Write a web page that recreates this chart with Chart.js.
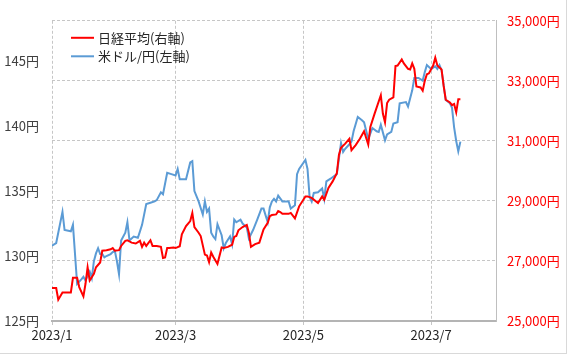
<!DOCTYPE html>
<html lang="ja">
<head>
<meta charset="utf-8">
<title>日経平均と米ドル/円</title>
<script src="https://cdn.jsdelivr.net/npm/chart.js@4.4.0/dist/chart.umd.min.js"></script>
<style>
  body { margin: 0; background: #fff; }
  #wrap { position: relative; width: 568px; height: 355px; overflow: hidden; }
  #frame { position: absolute; left: -1px; top: -1px; width: 566px; height: 353px; border: 1px solid #d9d9d9; pointer-events: none; }
</style>
</head>
<body>
<div id="wrap">
  <canvas id="chart" width="568" height="355"></canvas>
  <div id="frame"></div>
</div>
<script>
// x axis: 2023/1/1 .. 2023/8/1, labels every two months
const tickDates = ['1/1', '3/1', '5/1', '7/1'];
const tickLabels = ['2023/1', '2023/3', '2023/5', '2023/7'];
const axisStart = '1/1';
const axisEnd = '8/1';

// left axis (米ドル/円) and right axis (日経平均) ticks
const leftTicks = [125, 130, 135, 140, 145];
const leftMax = 148.1;
const rightTicks = [25000, 27000, 29000, 31000, 33000, 35000];

// 日経平均 (right axis, yen)
const nikkeiDates = [
  '1/1', '1/3', '1/4', '1/6', '1/10', '1/11', '1/13', '1/14', '1/16', '1/17',
  '1/18', '1/19', '1/21', '1/22', '1/24', '1/25', '1/27', '1/29', '1/30', '1/31',
  '2/2', '2/3', '2/5', '2/6', '2/8', '2/10', '2/12', '2/13', '2/14', '2/15',
  '2/17', '2/18', '2/20', '2/22', '2/23', '2/24', '2/25', '2/26', '2/28', '3/1',
  '3/3', '3/4', '3/6', '3/8', '3/9', '3/10', '3/12', '3/13', '3/15', '3/16',
  '3/17', '3/18', '3/19', '3/21', '3/23', '3/24', '3/26', '3/28', '3/29', '3/30',
  '3/31', '4/2', '4/4', '4/5', '4/6', '4/8', '4/10', '4/12', '4/14', '4/15',
  '4/16', '4/18', '4/19', '4/20', '4/21', '4/24', '4/25', '4/27', '4/29', '5/2',
  '5/3', '5/5', '5/8', '5/10', '5/11', '5/13', '5/15', '5/17', '5/18', '5/19',
  '5/21', '5/23', '5/24', '5/26', '5/28', '5/30', '6/1', '6/2', '6/4', '6/7',
  '6/8', '6/9', '6/10', '6/11', '6/13', '6/14', '6/15', '6/17', '6/18', '6/20',
  '6/21', '6/22', '6/23', '6/24', '6/26', '6/27', '6/28', '6/29', '6/30', '7/2',
  '7/3', '7/4', '7/6', '7/7', '7/8', '7/10', '7/11', '7/12', '7/13', '7/14',
  '7/15'
];
const nikkeiValues = [
  26100, 26100, 25710, 25950, 25950, 26440, 26440, 26130, 25820, 26240,
  26790, 26350, 26570, 26790, 26950, 27340, 27360, 27390, 27430, 27340,
  27360, 27500, 27670, 27690, 27610, 27580, 27670, 27470, 27610, 27500,
  27690, 27500, 27500, 27470, 27100, 27120, 27430, 27430, 27450, 27430,
  27490, 27890, 28160, 28330, 28600, 28130, 27940, 27830, 27210, 27180,
  26960, 27280, 27140, 26900, 27450, 27430, 27470, 27540, 27800, 27830,
  28020, 28130, 28200, 27940, 27470, 27560, 27610, 28050, 28270, 28490,
  28530, 28550, 28660, 28630, 28570, 28570, 28600, 28420, 28820, 29150,
  29150, 29100, 28930, 29150, 29040, 29430, 29650, 29920, 30530, 30770,
  30910, 31070, 30690, 30860, 31070, 31320, 30880, 31460, 31900, 32520,
  31900, 31620, 32260, 32370, 32450, 33490, 33510, 33710, 33580, 33400,
  33380, 33580, 33400, 32810, 32780, 32670, 33000, 33220, 33250, 33510,
  33770, 33510, 33380, 32830, 32370, 32280, 32190, 32230, 31950, 32390,
  32390
];

// 米ドル/円 (left axis, yen)
const usdjpyDates = [
  '1/1', '1/3', '1/6', '1/7', '1/10', '1/11', '1/13', '1/15', '1/16', '1/17',
  '1/18', '1/19', '1/20', '1/21', '1/22', '1/23', '1/24', '1/25', '1/26', '1/27',
  '1/29', '1/30', '1/31', '2/1', '2/2', '2/3', '2/5', '2/6', '2/7', '2/9',
  '2/11', '2/12', '2/13', '2/15', '2/17', '2/19', '2/20', '2/22', '2/23', '2/25',
  '2/27', '3/1', '3/2', '3/3', '3/6', '3/8', '3/9', '3/10', '3/12', '3/14',
  '3/15', '3/16', '3/17', '3/18', '3/19', '3/20', '3/21', '3/23', '3/24', '3/25',
  '3/27', '3/28', '3/29', '3/30', '4/1', '4/2', '4/4', '4/5', '4/7', '4/9',
  '4/11', '4/12', '4/14', '4/15', '4/16', '4/17', '4/18', '4/19', '4/21', '4/24',
  '4/25', '4/27', '4/28', '4/29', '5/2', '5/3', '5/4', '5/5', '5/6', '5/8',
  '5/10', '5/11', '5/12', '5/14', '5/17', '5/19', '5/20', '5/21', '5/23', '5/24',
  '5/25', '5/27', '5/29', '5/30', '6/1', '6/3', '6/5', '6/6', '6/7', '6/9',
  '6/10', '6/12', '6/13', '6/15', '6/16', '6/19', '6/20', '6/22', '6/23', '6/25',
  '6/27', '6/28', '6/29', '7/1', '7/3', '7/4', '7/5', '7/6', '7/8', '7/10',
  '7/11', '7/12', '7/13', '7/14', '7/15'
];
const usdjpyValues = [
  130.8, 131.0, 133.4, 132.0, 131.9, 132.4, 127.85, 128.2, 128.4, 128.1,
  128.5, 128.8, 128.3, 129.6, 130.2, 130.6, 130.15, 130.15, 129.9, 130.0,
  130.15, 130.3, 130.4, 129.6, 128.6, 131.2, 131.8, 132.6, 131.2, 131.5,
  131.4, 131.9, 132.4, 134.0, 134.1, 134.2, 134.3, 134.9, 134.75, 136.4,
  136.3, 136.2, 136.7, 135.9, 135.9, 137.2, 137.3, 135.0, 134.2, 133.2,
  134.2, 133.4, 133.65, 131.8, 131.5, 131.3, 132.45, 131.6, 130.6, 131.0,
  131.5, 130.9, 132.8, 132.6, 132.8, 132.5, 132.2, 131.35, 132.0, 132.8,
  133.65, 133.65, 132.6, 133.75, 134.2, 134.4, 134.2, 134.65, 134.2, 134.2,
  133.65, 133.9, 136.3, 136.7, 137.4, 136.7, 134.55, 134.2, 134.85, 134.9,
  135.2, 134.4, 135.75, 135.95, 136.3, 138.7, 138.0, 138.25, 138.6, 138.8,
  139.6, 140.7, 140.45, 140.3, 139.0, 139.85, 139.6, 139.55, 140.1, 138.9,
  139.35, 139.55, 140.2, 140.3, 141.75, 141.85, 141.5, 142.75, 143.7, 143.7,
  143.5, 144.15, 144.7, 144.4, 144.6, 144.4, 144.7, 144.3, 142.0, 141.75,
  141.4, 139.9, 138.85, 138.05, 138.8
];

function dayOfYear(md) {
  const [m, d] = md.split('/').map(Number);
  return (Date.UTC(2023, m - 1, d) - Date.UTC(2023, 0, 1)) / 86400000;
}

function toPoints(dates, values) {
  return dates.map((d, i) => ({ x: dayOfYear(d), y: values[i] }));
}

function yen(v) {
  return String(v).replace(/\B(?=(\d{3})+(?!\d))/g, ',') + '円';
}

const FONT = '"Noto Sans CJK JP", "Noto Sans", sans-serif';
Chart.defaults.font.family = FONT;
Chart.defaults.font.size = 13;
Chart.defaults.color = '#404040';

const gridColor = '#c6c6c6';

// legend drawn inside the plot, top left
const insideLegend = {
  id: 'insideLegend',
  afterDraw(chart) {
    const { ctx, chartArea } = chart;
    const x = chartArea.left + 19;
    const y = chartArea.top + 17;
    ctx.save();
    ctx.font = '13px ' + FONT;
    ctx.textBaseline = 'middle';
    chart.data.datasets.forEach((ds, i) => {
      const yy = y + i * 18.5;
      ctx.strokeStyle = ds.borderColor;
      ctx.lineWidth = 2;
      ctx.beginPath();
      ctx.moveTo(x, yy);
      ctx.lineTo(x + 23, yy);
      ctx.stroke();
      ctx.fillStyle = '#262626';
      ctx.fillText(ds.label, x + 27, yy);
    });
    ctx.restore();
  }
};

new Chart(document.getElementById('chart'), {
  type: 'line',
  data: {
    datasets: [
      {
        label: '日経平均(右軸)',
        data: toPoints(nikkeiDates, nikkeiValues),
        yAxisID: 'yRight',
        borderColor: '#ff0000',
        borderWidth: 2,
        pointRadius: 0,
        tension: 0
      },
      {
        label: '米ドル/円(左軸)',
        data: toPoints(usdjpyDates, usdjpyValues),
        yAxisID: 'yLeft',
        borderColor: '#5b9bd5',
        borderWidth: 2,
        pointRadius: 0,
        tension: 0
      }
    ]
  },
  options: {
    responsive: false,
    animation: false,
    layout: { padding: { top: 16, left: 0, right: 0, bottom: 0 } },
    plugins: {
      legend: { display: false },
      tooltip: { enabled: false }
    },
    scales: {
      x: {
        type: 'linear',
        min: dayOfYear(axisStart),
        max: dayOfYear(axisEnd),
        afterBuildTicks: scale => {
          scale.ticks = tickDates.map(d => ({ value: dayOfYear(d) }));
        },
        afterFit: scale => { scale.height = 34; },
        ticks: {
          autoSkip: false,
          maxRotation: 0,
          padding: 2,
          color: '#262626',
          callback: (v, i) => tickLabels[i]
        },
        grid: { color: gridColor, tickLength: 4, tickColor: gridColor },
        border: { display: true, color: '#b4b4b4', width: 2, dash: [3, 2] }
      },
      yLeft: {
        position: 'left',
        min: leftTicks[0],
        max: leftMax,
        afterBuildTicks: scale => {
          scale.ticks = leftTicks.map(v => ({ value: v }));
        },
        afterFit: scale => { scale.width = 52; },
        ticks: {
          padding: 13,
          color: '#404040',
          callback: v => v + '円'
        },
        grid: { display: false, drawTicks: false },
        border: { display: false }
      },
      yRight: {
        position: 'right',
        min: rightTicks[0],
        max: rightTicks[rightTicks.length - 1],
        afterBuildTicks: scale => {
          scale.ticks = rightTicks.map(v => ({ value: v }));
        },
        afterFit: scale => { scale.width = 72; },
        ticks: {
          padding: 11,
          color: '#ff0000',
          callback: v => yen(v)
        },
        grid: { color: gridColor, drawTicks: false },
        border: { display: true, color: '#bfbfbf', width: 1, dash: [3, 2] }
      }
    }
  },
  plugins: [insideLegend]
});
</script>
</body>
</html>
